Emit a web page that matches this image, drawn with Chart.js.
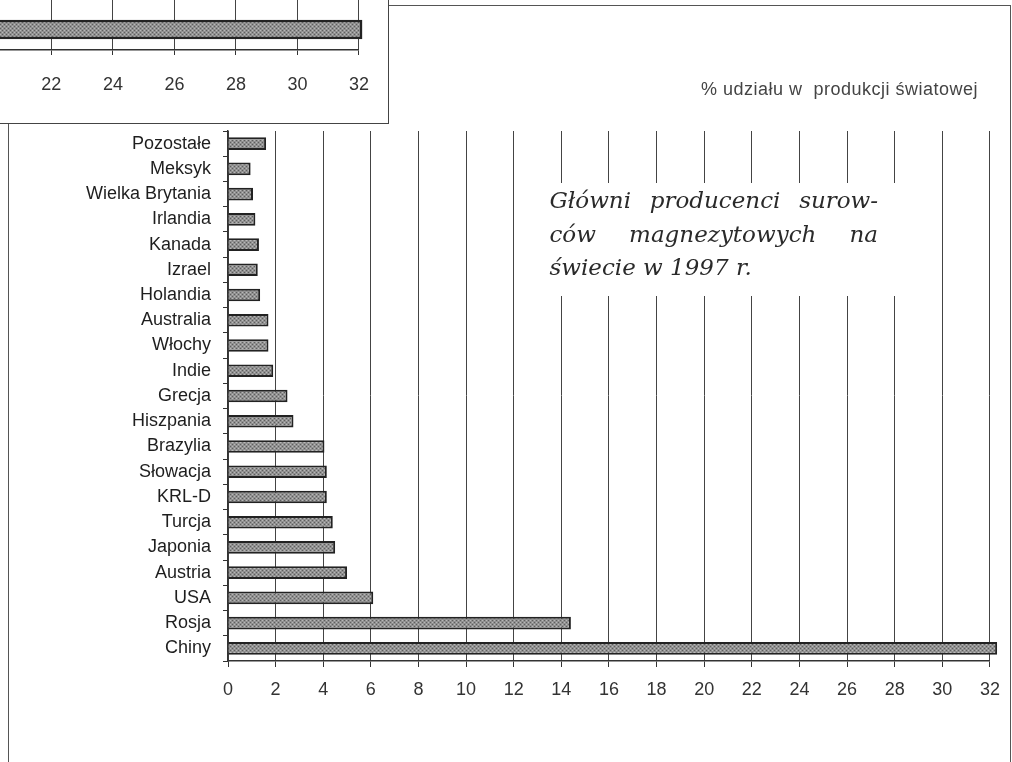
<!DOCTYPE html>
<html>
<head>
<meta charset="utf-8">
<script src="https://cdn.jsdelivr.net/npm/chart.js@4/dist/chart.umd.min.js"></script>
<style>
  body { margin: 0; background: #fff; width: 1012px; height: 762px; overflow: hidden; position: relative; }
  #ramka { position: absolute; left: 8px; top: 5px; width: 1003px; height: 900px; border: 1.5px solid #555; box-sizing: border-box; }
  #glowny { position: absolute; left: 0; top: 0; }
  #wstawka { position: absolute; left: 0; top: 0; width: 388px; height: 123px; background: #fff;
             border-right: 1.5px solid #444; border-bottom: 1.5px solid #444; }
</style>
</head>
<body>
<div id="ramka"></div>
<canvas id="glowny" width="1012" height="762"></canvas>
<div id="wstawka"><canvas id="wstawkaCanvas" width="388" height="123"></canvas></div>

<script>
// dane - udzial w produkcji swiatowej (%)
var kraje = ['Pozostałe', 'Meksyk', 'Wielka Brytania', 'Irlandia', 'Kanada', 'Izrael', 'Holandia',
  'Australia', 'Włochy', 'Indie', 'Grecja', 'Hiszpania', 'Brazylia', 'Słowacja', 'KRL-D',
  'Turcja', 'Japonia', 'Austria', 'USA', 'Rosja', 'Chiny'];
var udzial = [1.6, 0.95, 1.05, 1.15, 1.3, 1.25, 1.35, 1.7, 1.7, 1.9, 2.5, 2.75, 4.05, 4.15, 4.15,
  4.4, 4.5, 5.0, 6.1, 14.4, 32.3];
var osX = [0, 2, 4, 6, 8, 10, 12, 14, 16, 18, 20, 22, 24, 26, 28, 30, 32];

// fragment poprzedniego wykresu (lewy gorny rog)
var wstawkaWartosci = [32.1];
var wstawkaOsX = [22, 24, 26, 28, 30, 32];

var tytul = '% udziału w  produkcji światowej';
var opis1 = ['Główni', 'producenci', 'surow-'];
var opis2 = ['ców', 'magnezytowych', 'na'];
var opis3 = 'świecie w 1997 r.';

// szary kropkowany wzor slupkow
var wz = document.createElement('canvas');
wz.width = 4; wz.height = 4;
var c = wz.getContext('2d');
c.fillStyle = '#909090'; c.fillRect(0, 0, 4, 4);
c.fillStyle = '#5e5e5e'; c.fillRect(0, 0, 1, 1); c.fillRect(2, 2, 1, 1);
c.fillStyle = '#b8b8b8'; c.fillRect(2, 0, 1, 1); c.fillRect(0, 2, 1, 1);
var wzor = c.createPattern(wz, 'repeat');

var czcionka = { family: '"Liberation Sans", Arial, sans-serif', size: 18 };

function wyjustuj(ctx, slowa, x0, x1, y) {
  var suma = 0;
  slowa.forEach(function (s) { suma += ctx.measureText(s).width; });
  var odstep = (x1 - x0 - suma) / (slowa.length - 1);
  var x = x0;
  slowa.forEach(function (s) {
    ctx.fillText(s, x, y);
    x += ctx.measureText(s).width + odstep;
  });
}

var napisy = {
  id: 'napisy',
  beforeDatasetsDraw: function (chart) {
    var ctx = chart.ctx, sx = chart.scales.x, a = chart.chartArea;
    ctx.save();
    // biale pole pod opisem
    var l = sx.getPixelForValue(12.7), r = sx.getPixelForValue(28.6);
    ctx.fillStyle = '#fff';
    ctx.fillRect(l, a.top + 52, r - l, 113);

    // dobierz rozmiar tak, by ostatnia linia miala ok. 202 px
    ctx.font = 'italic 22px "DejaVu Serif"';
    var rozm = 22 * 202 / ctx.measureText(opis3).width;
    ctx.font = 'italic ' + rozm.toFixed(1) + 'px "DejaVu Serif"';
    ctx.fillStyle = '#2a2a2a';
    ctx.textBaseline = 'alphabetic';
    ctx.textAlign = 'left';
    var x0 = sx.getPixelForValue(13.5), x1 = sx.getPixelForValue(27.3);
    wyjustuj(ctx, opis1, x0, x1, a.top + 77);
    wyjustuj(ctx, opis2, x0, x1, a.top + 111);
    ctx.fillText(opis3, x0, a.top + 144);
    ctx.restore();
  },
  afterDraw: function (chart) {
    var ctx = chart.ctx, a = chart.chartArea;
    ctx.save();
    ctx.font = '18px "Liberation Sans", Arial, sans-serif';
    ctx.letterSpacing = '0.5px';
    ctx.fillStyle = '#444';
    ctx.textAlign = 'right';
    ctx.textBaseline = 'alphabetic';
    ctx.fillText(tytul, a.right - 12, a.top - 36);
    ctx.restore();
  }
};

var ctx = document.getElementById('glowny').getContext('2d');
var wykres = new Chart(ctx, {
  type: 'bar',
  data: {
    labels: kraje,
    datasets: [{
      data: udzial,
      backgroundColor: wzor,
      borderColor: '#222',
      borderWidth: 2,
      barPercentage: 0.5,
      categoryPercentage: 1,
      clip: false
    }]
  },
  options: {
    indexAxis: 'y',
    responsive: false,
    animation: false,
    layout: { padding: { top: 131, right: 21, bottom: 51, left: 0 } },
    plugins: { legend: { display: false }, tooltip: { enabled: false } },
    scales: {
      x: {
        min: 0,
        max: 32,
        afterBuildTicks: function (s) { s.ticks = osX.map(function (v) { return { value: v }; }); },
        afterFit: function (s) { s.height = 50; },
        grid: { color: '#444', lineWidth: 1, tickLength: 6, tickColor: '#333' },
        border: { color: '#333', width: 1.5 },
        ticks: { color: '#333', font: czcionka, padding: 12 }
      },
      y: {
        afterFit: function (s) { s.width = 228; },
        grid: { drawOnChartArea: false, tickLength: 5, color: '#333', offset: true },
        border: { color: '#333', width: 1.5 },
        ticks: { color: '#1e1e1e', font: czcionka, padding: 12 }
      }
    }
  },
  plugins: [napisy]
});

// wstawka - urwany fragment innego wykresu
var ctx2 = document.getElementById('wstawkaCanvas').getContext('2d');
var wstawka = new Chart(ctx2, {
  type: 'bar',
  data: {
    datasets: [{
      data: wstawkaWartosci.map(function (v) { return { x: v, y: 0 }; }),
      backgroundColor: wzor,
      borderColor: '#222',
      borderWidth: 2.5,
      barThickness: 19,
      clip: false
    }]
  },
  options: {
    indexAxis: 'y',
    responsive: false,
    animation: false,
    layout: { padding: { top: 0, right: 25, bottom: 0, left: 0 } },
    plugins: { legend: { display: false }, tooltip: { enabled: false } },
    scales: {
      x: {
        type: 'linear',
        min: 20.33,
        max: 32,
        afterBuildTicks: function (s) { s.ticks = wstawkaOsX.map(function (v) { return { value: v }; }); },
        afterFit: function (s) { s.height = 73; },
        grid: { color: '#444', lineWidth: 1, tickLength: 5, tickColor: '#333' },
        border: { color: '#333', width: 1.5 },
        ticks: { color: '#333', font: czcionka, padding: 19 }
      },
      y: { type: 'linear', min: -0.32, max: 0.68, display: false }
    }
  }
});
</script>
</body>
</html>
